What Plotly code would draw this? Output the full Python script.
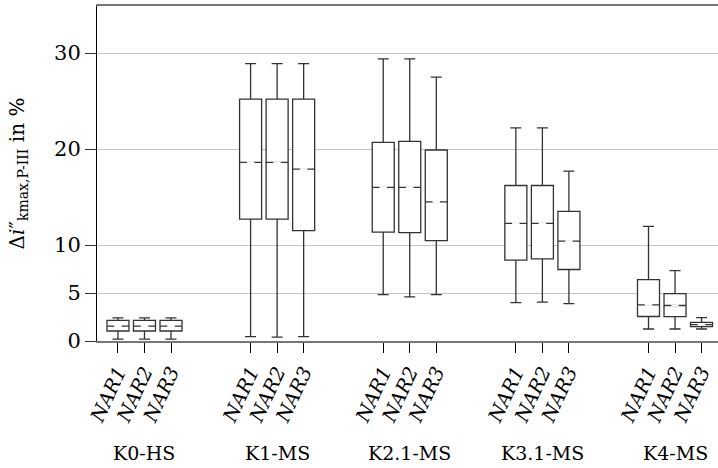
import plotly.graph_objects as go

groups = ["K0-HS", "K1-MS", "K2.1-MS", "K3.1-MS", "K4-MS"]
variants = ["NAR1", "NAR2", "NAR3"]

# values per box, ordered group by group, NAR1..NAR3
lower = [0.2, 0.2, 0.2,   0.45, 0.4, 0.45,   4.83, 4.6, 4.83,   4.0, 4.06, 3.9,   1.25, 1.25, 1.25]
q1    = [1.04, 1.04, 1.04, 12.7, 12.7, 11.5,  11.35, 11.3, 10.45, 8.42, 8.56, 7.45, 2.55, 2.53, 1.49]
med   = [1.56, 1.56, 1.56, 18.6, 18.6, 17.9,  16.0, 16.0, 14.5,   12.26, 12.26, 10.4, 3.77, 3.7, 1.7]
q3    = [2.15, 2.15, 2.15, 25.2, 25.2, 25.2,  20.7, 20.8, 19.9,   16.2, 16.2, 13.5,   6.39, 4.93, 1.94]
upper = [2.4, 2.4, 2.4,   28.9, 28.9, 28.9,  29.4, 29.4, 27.5,   22.2, 22.2, 17.7,   11.94, 7.33, 2.43]

y_ticks = [0, 5, 10, 20, 30]

GROUP_STEP = 5
pos = []
labels = []
for g in range(len(groups)):
    for i, v in enumerate(variants):
        pos.append(g * GROUP_STEP + (i - 1))
        labels.append(v)
group_centers = [g * GROUP_STEP for g in range(len(groups))]

BOX_W = 0.83
FONT = "DejaVu Serif"

fig = go.Figure()
fig.add_trace(go.Box(
    x=pos, q1=q1, median=med, q3=q3, lowerfence=lower, upperfence=upper,
    width=BOX_W, whiskerwidth=0.5, fillcolor="white",
    line=dict(color="#333333", width=1.3), boxpoints=False, showlegend=False,
))

# gap in the median line (dashed look)
gx, gy = [], []
half_gap = BOX_W * 0.17
for p, m in zip(pos, med):
    gx += [p - half_gap, p + half_gap, None]
    gy += [m, m, None]
fig.add_trace(go.Scatter(x=gx, y=gy, mode="lines", line=dict(color="white", width=2),
                         showlegend=False, hoverinfo="skip"))

for c, name in zip(group_centers, groups):
    fig.add_annotation(x=c, y=0, xref="x", yref="paper", yshift=-112, text=name,
                       showarrow=False, yanchor="middle", xanchor="center",
                       font=dict(family=FONT, size=19, color="black"))

fig.update_layout(
    width=718, height=468,
    margin=dict(l=97, r=0, t=6, b=127),
    paper_bgcolor="white", plot_bgcolor="white",
    font=dict(family=FONT, color="black"),
    xaxis=dict(
        range=[-1.79, 21.62], tickmode="array", tickvals=pos, ticktext=labels,
        tickangle=-65, ticks="outside", ticklen=10, tickcolor="black",
        tickfont=dict(family=FONT, size=19.5, style="italic", color="black"),
        showline=True, linecolor="#777777", linewidth=2, mirror=True,
        showgrid=False, zeroline=False,
    ),
    yaxis=dict(
        range=[0, 34.9], tickmode="array", tickvals=y_ticks,
        ticks="outside", ticklen=11, tickcolor="#333333",
        tickfont=dict(family=FONT, size=21, color="black"),
        showline=True, linecolor="black", linewidth=1, mirror=False,
        showgrid=True, gridcolor="#c4c4c4", gridwidth=1, zeroline=False,
        title=dict(text="Δ<i>i</i>″<sub>kmax,P-III</sub> in %",
                   font=dict(family=FONT, size=20, color="black"), standoff=24),
    ),
)

fig.write_html("out.html")
